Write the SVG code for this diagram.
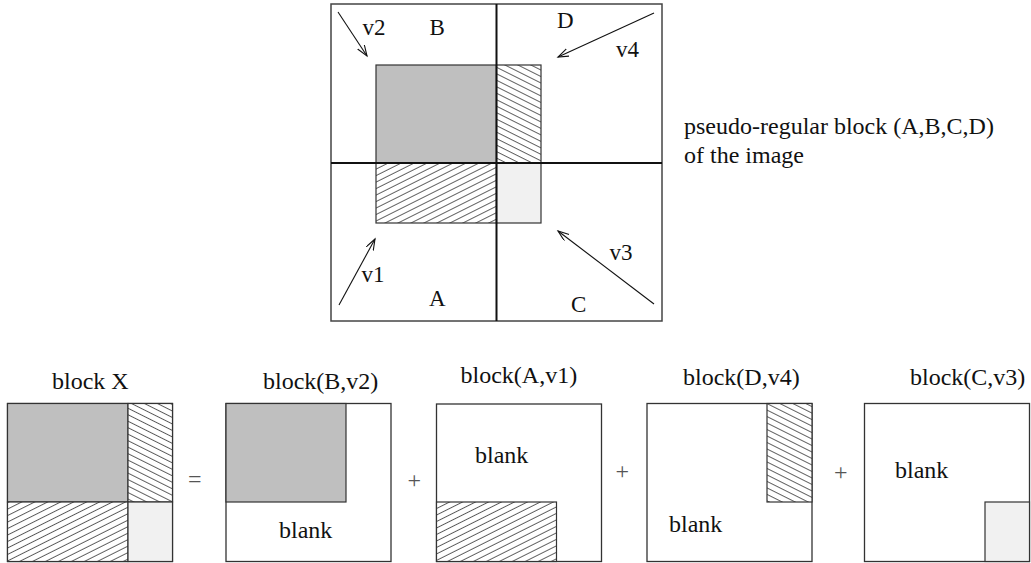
<svg xmlns="http://www.w3.org/2000/svg" width="1031" height="563" viewBox="0 0 1031 563">
  <style>
    .frame { fill: none; stroke: #444; stroke-width: 1.5; }
    .divider { stroke: #111; stroke-width: 2; }
    .box { fill: #fff; stroke: #333; stroke-width: 1.3; }
    .part { stroke: #333; stroke-width: 1.2; }
    .gray { fill: #bfbfbf; }
    .light { fill: #f1f1f1; }
    .hatchD { fill: url(#hatchDown); }
    .hatchU { fill: url(#hatchUp); }
    .lbl { font-family: "Liberation Serif", "Times New Roman", serif; font-size: 23px; fill: #111; }
    .txt { font-family: "Liberation Serif", "Times New Roman", serif; font-size: 24px; fill: #111; }
    .op { font-family: "Liberation Serif", "Times New Roman", serif; font-size: 24px; fill: #555; }
    .arrow { stroke: #111; stroke-width: 1.1; fill: none; marker-end: url(#head); }
  </style>
  <defs>
    <!-- diagonal hatching, falling to the right -->
    <pattern id="hatchDown" patternUnits="userSpaceOnUse" width="12" height="5.8" patternTransform="rotate(26.57)">
      <rect width="12" height="5.8" fill="#fff"/>
      <line x1="0" y1="0.4" x2="12" y2="0.4" stroke="#222" stroke-width="0.8"/>
    </pattern>
    <!-- diagonal hatching, rising to the right -->
    <pattern id="hatchUp" patternUnits="userSpaceOnUse" width="12" height="5.8" patternTransform="rotate(-26.57)">
      <rect width="12" height="5.8" fill="#fff"/>
      <line x1="0" y1="0.4" x2="12" y2="0.4" stroke="#222" stroke-width="0.8"/>
    </pattern>
    <marker id="head" markerUnits="userSpaceOnUse" markerWidth="14" markerHeight="10" refX="11" refY="4" orient="auto">
      <path d="M0,0 L11,4 L0,8" fill="none" stroke="#111" stroke-width="1.1"/>
    </marker>
  </defs>

  <!-- image with the pseudo-regular block -->
  <g id="image-block">
    <rect class="frame" x="331" y="4" width="331" height="317" fill="#fff"/>
    <rect class="part gray" x="376" y="65" width="120.5" height="98"/>
    <rect class="part hatchD" x="496.5" y="65" width="44.5" height="98"/>
    <rect class="part hatchU" x="376" y="163" width="120.5" height="60"/>
    <rect class="part light" x="496.5" y="163" width="44.5" height="60"/>
    <line class="divider" x1="496.5" y1="4" x2="496.5" y2="321"/>
    <line class="divider" x1="331" y1="163" x2="662" y2="163"/>
    <text class="lbl" x="429.5" y="35">B</text>
    <text class="lbl" x="557" y="27.5">D</text>
    <text class="lbl" x="429" y="306">A</text>
    <text class="lbl" x="571" y="312">C</text>
    <text class="lbl" x="362.5" y="35">v2</text>
    <text class="lbl" x="616" y="57">v4</text>
    <text class="lbl" x="361.5" y="282">v1</text>
    <text class="lbl" x="609.5" y="260">v3</text>
  </g>

  <g id="caption">
    <text class="txt" x="684" y="134">pseudo-regular block (A,B,C,D)</text>
    <text class="txt" x="684" y="162.5">of the image</text>
  </g>

  <!-- motion vectors -->
  <g id="connectors">
    <line class="arrow" x1="338" y1="12" x2="367" y2="56"/>
    <line class="arrow" x1="654" y1="13" x2="558" y2="57"/>
    <line class="arrow" x1="339" y1="305" x2="375" y2="239"/>
    <line class="arrow" x1="654" y1="304" x2="558" y2="231"/>
  </g>

  <!-- decomposition of block X -->
  <g id="block-x">
    <text class="txt" x="52" y="389">block X</text>
    <rect class="box" x="7.5" y="403.5" width="165" height="158"/>
    <rect class="part gray" x="7.5" y="403.5" width="120.5" height="98.5"/>
    <rect class="part hatchD" x="128" y="403.5" width="44.5" height="98.5"/>
    <rect class="part hatchU" x="7.5" y="502" width="120.5" height="59.5"/>
    <rect class="part light" x="128" y="502" width="44.5" height="59.5"/>
  </g>

  <text class="op" x="188" y="487">=</text>

  <g id="block-b-v2">
    <text class="txt" x="263" y="389">block(B,v2)</text>
    <rect class="box" x="226" y="403.5" width="165" height="158"/>
    <rect class="part gray" x="226" y="403.5" width="120" height="98.5"/>
    <text class="txt" x="279" y="538">blank</text>
  </g>

  <text class="op" x="407.5" y="488">+</text>

  <g id="block-a-v1">
    <text class="txt" x="460.5" y="383">block(A,v1)</text>
    <rect class="box" x="436.5" y="404" width="165" height="157.5"/>
    <rect class="part hatchU" x="436.5" y="502" width="120" height="59.5"/>
    <text class="txt" x="475" y="463">blank</text>
  </g>

  <text class="op" x="615.5" y="479">+</text>

  <g id="block-d-v4">
    <text class="txt" x="683" y="385">block(D,v4)</text>
    <rect class="box" x="647" y="403.5" width="165" height="158"/>
    <rect class="part hatchD" x="767" y="403.5" width="45" height="98.5"/>
    <text class="txt" x="669" y="532">blank</text>
  </g>

  <text class="op" x="834" y="480">+</text>

  <g id="block-c-v3">
    <text class="txt" x="910" y="385">block(C,v3)</text>
    <rect class="box" x="864.5" y="403.5" width="165" height="158"/>
    <rect class="part light" x="985" y="502" width="44.5" height="59.5"/>
    <text class="txt" x="895" y="478">blank</text>
  </g>
</svg>
